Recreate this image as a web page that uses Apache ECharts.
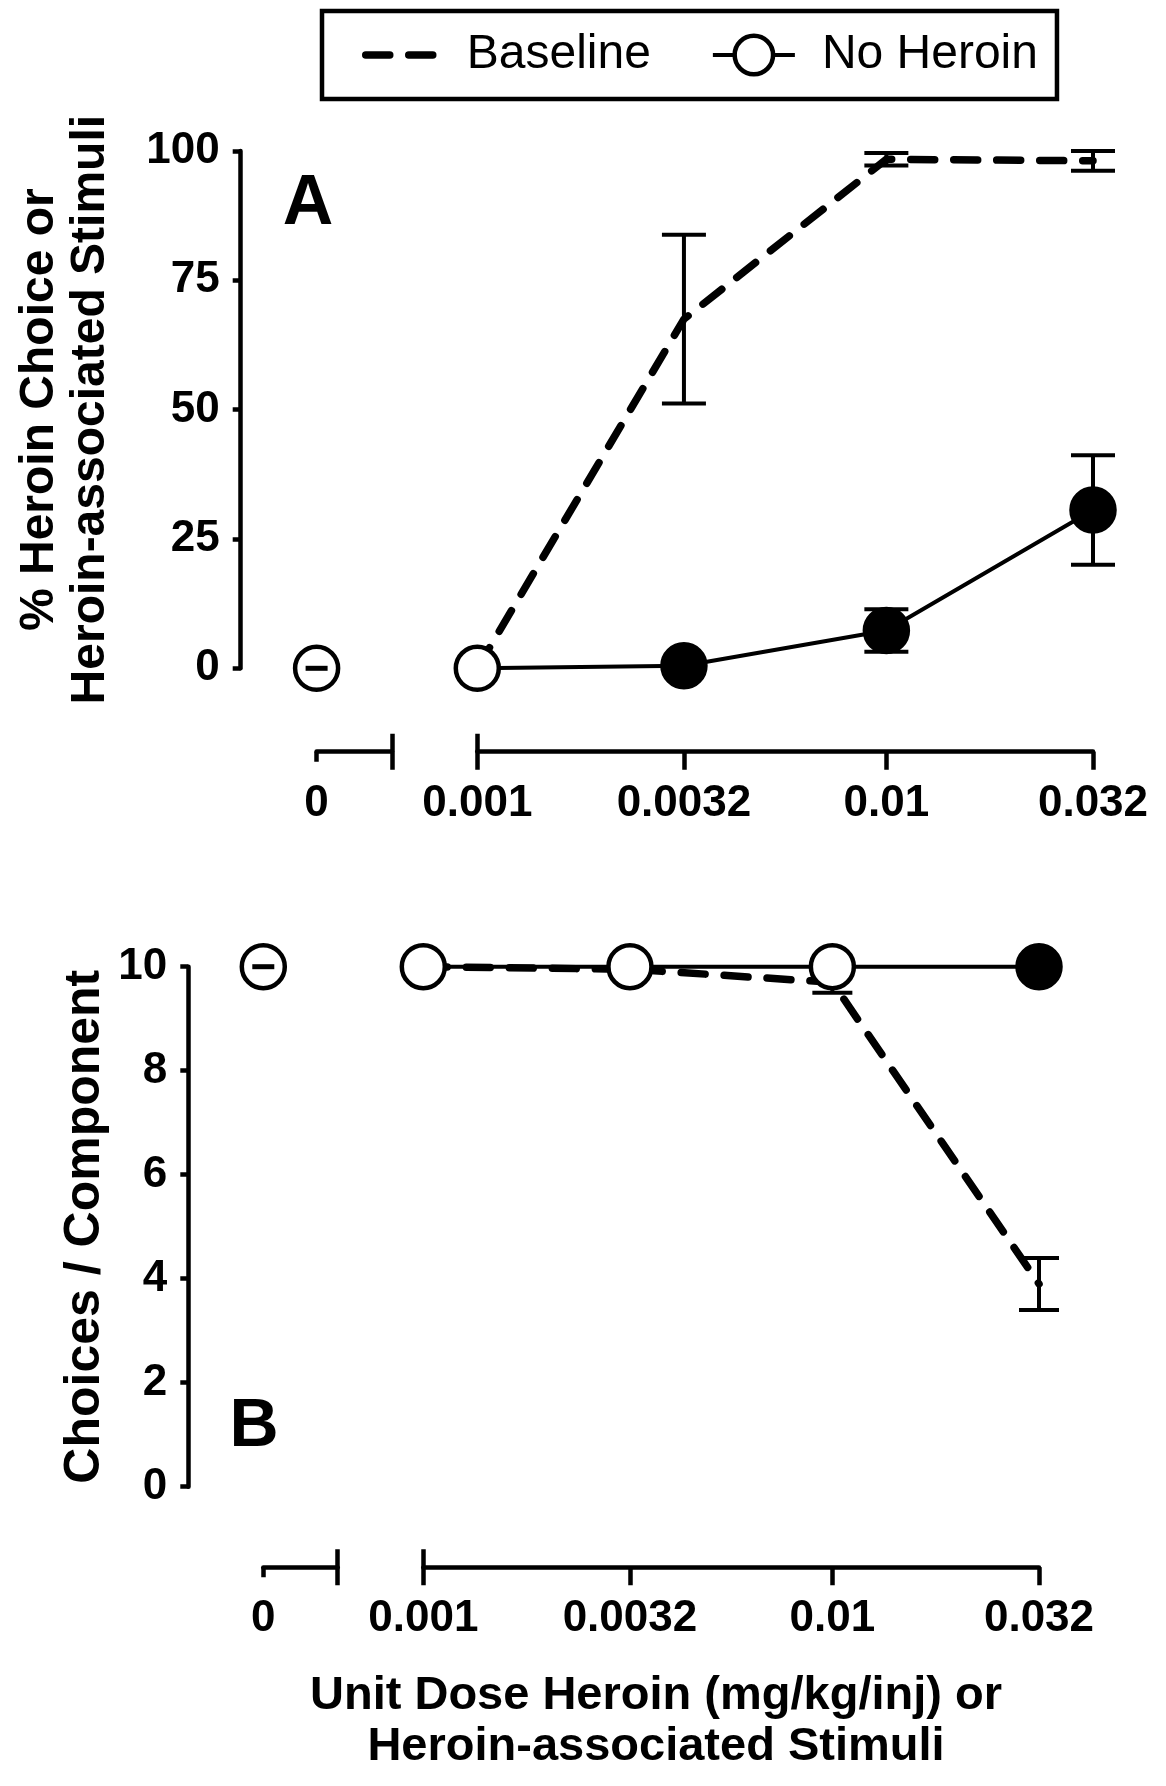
<!DOCTYPE html>
<html><head><meta charset="utf-8">
<script src="https://cdn.jsdelivr.net/npm/echarts@6/dist/echarts.min.js"></script>
<style>html,body{margin:0;padding:0;background:#fff}#c{width:1166px;height:1786px}</style>
</head><body><div id="c"></div>
<script>
// ---------- data ----------
const doses = [0.001, 0.0032, 0.01, 0.032];
const doseLabels = ['0.001', '0.0032', '0.01', '0.032'];
const zeroDoseLabel = '0';
const seriesNames = ['Baseline', 'No Heroin'];

// Panel A: % heroin choice
const baselineA = [0, 67.5, 98.4, 98.1];
const baselineErrA = [0, 16.3, 1.2, 1.9];
const noHeroinA = [0, 0.5, 7.3, 30.6];
const noHeroinErrA = [0, 0, 4.1, 10.6];
const noHeroinFilledA = [false, true, true, true];
const zeroDoseA = 0;
const yTicksA = [0, 25, 50, 75, 100];

// Panel B: choices / component
const baselineB = [10, 9.95, 9.7, 3.9];
const baselineErrB = [0, 0, 0.2, 0.5];
const noHeroinB = [10, 10, 10, 10];
const noHeroinErrB = [0, 0, 0, 0];
const noHeroinFilledB = [false, false, false, true];
const zeroDoseB = 10;
const yTicksB = [0, 2, 4, 6, 8, 10];

// ---------- style ----------
const FONT = "'Liberation Sans', Arial, sans-serif";
const BLACK = '#000';
const AXW = 4.5;
const DASH = { color: BLACK, width: 7.5, type: [24, 19], cap: 'round' };
const SOLID = { color: BLACK, width: 4 };
const OPEN = { color: '#fff', borderColor: BLACK, borderWidth: 4.5, opacity: 1 };

const P = {
  A: { top: 151, bottom: 668.3, yAxisX: 240.7, zeroL: 316.6, zeroR: 392, mainL: 477.3, mainR: 1093, xAxisY: 751.7 },
  B: { top: 966.7, bottom: 1486.7, yAxisX: 188.3, zeroL: 263.3, zeroR: 337.7, mainL: 423.3, mainR: 1039, xAxisY: 1567.3 }
};

function labelFor(v) {
  let best = 0, bd = Infinity;
  doses.forEach((d, i) => { const dd = Math.abs(Math.log(v / d)); if (dd < bd) { bd = dd; best = i; } });
  return doseLabels[best];
}

const tickLabelStyle = { color: BLACK, fontFamily: FONT, fontWeight: 'bold', fontSize: 44 };

function errRender(capW) {
  return function (params, api) {
    const x = api.value(0), lo = api.value(1), hi = api.value(2);
    if (!(hi - lo > 0)) return { type: 'group', children: [] };
    const a = api.coord([x, lo]), b = api.coord([x, hi]);
    const st = { stroke: BLACK, lineWidth: 4 };
    return { type: 'group', children: [
      { type: 'line', shape: { x1: a[0], y1: a[1], x2: b[0], y2: b[1] }, style: st },
      { type: 'line', shape: { x1: a[0] - capW / 2, y1: a[1], x2: a[0] + capW / 2, y2: a[1] }, style: st },
      { type: 'line', shape: { x1: b[0] - capW / 2, y1: b[1], x2: b[0] + capW / 2, y2: b[1] }, style: st }
    ] };
  };
}

const grids = [], xAxes = [], yAxes = [], series = [];

function buildPanel(key, yMax, yInterval, yName, nameGap, nameLH, nameSize, base, baseErr, noH, noHErr, filled, zeroVal, capW) {
  const p = P[key];
  const h = p.bottom - p.top;
  const off = p.xAxisY - p.bottom;
  const g0 = grids.length;
  grids.push({ left: p.zeroL, top: p.top, width: p.zeroR - p.zeroL, height: h, containLabel: false, outerBoundsMode: 'none' });
  grids.push({ left: p.mainL, top: p.top, width: p.mainR - p.mainL, height: h, containLabel: false, outerBoundsMode: 'none' });
  const g1 = g0 + 1;

  const xz = xAxes.length;
  // zero-dose segment
  xAxes.push({ type: 'value', gridIndex: g0, min: 0, max: 1, position: 'bottom', offset: off,
    axisLine: { show: true, onZero: false, lineStyle: { color: BLACK, width: AXW } },
    axisTick: { show: true, customValues: [0], length: 10, lineStyle: { color: BLACK, width: AXW } },
    axisLabel: { show: true, customValues: [0], formatter: () => zeroDoseLabel, margin: 30, ...tickLabelStyle },
    splitLine: { show: false } });
  xAxes.push({ type: 'value', gridIndex: g0, min: 0, max: 1, position: 'bottom', offset: off,
    axisLine: { show: false, onZero: false },
    axisTick: { show: true, customValues: [1], length: 18, lineStyle: { color: BLACK, width: AXW } },
    axisLabel: { show: false }, splitLine: { show: false } });
  xAxes.push({ type: 'value', gridIndex: g0, min: 0, max: 1, position: 'bottom', offset: off,
    axisLine: { show: false, onZero: false },
    axisTick: { show: true, inside: true, customValues: [1], length: 18, lineStyle: { color: BLACK, width: AXW } },
    axisLabel: { show: false }, splitLine: { show: false } });
  const xm = xAxes.length;
  xAxes.push({ type: 'log', logBase: 10, gridIndex: g1, min: doses[0], max: doses[doses.length - 1], position: 'bottom', offset: off,
    axisLine: { show: true, onZero: false, lineStyle: { color: BLACK, width: AXW } },
    axisTick: { show: true, customValues: doses, length: 18, lineStyle: { color: BLACK, width: AXW } },
    axisLabel: { show: true, customValues: doses, formatter: (v) => labelFor(v), margin: 30, ...tickLabelStyle },
    splitLine: { show: false }, minorTick: { show: false }, minorSplitLine: { show: false } });
  xAxes.push({ type: 'log', logBase: 10, gridIndex: g1, min: doses[0], max: doses[doses.length - 1], position: 'bottom', offset: off,
    axisLine: { show: false, onZero: false },
    axisTick: { show: true, inside: true, customValues: [doses[0]], length: 18, lineStyle: { color: BLACK, width: AXW } },
    axisLabel: { show: false }, splitLine: { show: false } });

  const y0 = yAxes.length;
  yAxes.push({ type: 'value', gridIndex: g0, min: 0, max: yMax, interval: yInterval, position: 'left', offset: p.zeroL - p.yAxisX,
    axisLine: { show: true, onZero: false, lineStyle: { color: BLACK, width: AXW } },
    axisTick: { show: true, length: 8, lineStyle: { color: BLACK, width: AXW } },
    axisLabel: { show: true, margin: 21, ...tickLabelStyle },
    splitLine: { show: false },
    name: yName, nameLocation: 'middle', nameRotate: 90, nameGap: nameGap,
    nameTextStyle: { color: BLACK, fontFamily: FONT, fontWeight: 'bold', fontSize: nameSize, lineHeight: nameLH } });
  yAxes.push({ type: 'value', gridIndex: g1, min: 0, max: yMax, interval: yInterval, show: false });
  const y1 = y0 + 1;

  // baseline dashed line
  series.push({ type: 'line', name: seriesNames[0], xAxisIndex: xm, yAxisIndex: y1, z: 3, clip: false, symbol: 'none', silent: true,
    lineStyle: DASH, itemStyle: { color: BLACK },
    data: doses.map((d, i) => [d, base[i]]) });
  // no heroin line + markers
  series.push({ type: 'line', name: seriesNames[1], xAxisIndex: xm, yAxisIndex: y1, z: 5, clip: false, silent: true,
    symbol: 'circle', symbolSize: 43,
    lineStyle: SOLID, itemStyle: OPEN,
    data: doses.map((d, i) => ({ value: [d, noH[i]], itemStyle: { color: filled[i] ? BLACK : '#fff' } })) });
  // baseline error bars
  series.push({ type: 'custom', name: 'Baseline SEM', xAxisIndex: xm, yAxisIndex: y1, z: 2, clip: false, silent: true,
    renderItem: errRender(capW), encode: { x: 0, y: [1, 2] },
    data: doses.map((d, i) => [d, base[i] - baseErr[i], base[i] + baseErr[i]]) });
  // no heroin error bars
  series.push({ type: 'custom', name: 'No Heroin SEM', xAxisIndex: xm, yAxisIndex: y1, z: 4, clip: false, silent: true,
    renderItem: errRender(capW), encode: { x: 0, y: [1, 2] },
    data: doses.map((d, i) => [d, noH[i] - noHErr[i], noH[i] + noHErr[i]]) });
  // zero-dose point
  series.push({ type: 'scatter', name: 'Zero dose', xAxisIndex: xz, yAxisIndex: y0, z: 5, clip: false, silent: true,
    symbol: 'circle', symbolSize: 43, itemStyle: OPEN,
    data: [[0, zeroVal]] });
  series.push({ type: 'scatter', name: 'Zero dose mark', xAxisIndex: xz, yAxisIndex: y0, z: 6, clip: false, silent: true,
    symbol: 'rect', symbolSize: [22, 5],
    itemStyle: { color: BLACK, opacity: 1 },
    data: [[0, zeroVal]] });
}

buildPanel('A', 100, 25, '% Heroin Choice or\nHeroin-associated Stimuli', 124, 51, 48,
  baselineA, baselineErrA, noHeroinA, noHeroinErrA, noHeroinFilledA, zeroDoseA, 44);
buildPanel('B', 10, 2, 'Choices / Component', 76, 54, 50,
  baselineB, baselineErrB, noHeroinB, noHeroinErrB, noHeroinFilledB, zeroDoseB, 40);

const chart = echarts.init(document.getElementById('c'), null, { renderer: 'canvas' });
chart.setOption({
  animation: false,
  backgroundColor: '#fff',
  grid: grids,
  xAxis: xAxes,
  yAxis: yAxes,
  series: series,
  legend: {
    data: [
      { name: seriesNames[0], itemStyle: { opacity: 0, borderWidth: 0 }, lineStyle: DASH },
      { name: seriesNames[1], itemStyle: OPEN, lineStyle: SOLID, textStyle: { padding: [0, 0, 0, 22] } }
    ],
    left: 322, top: 11, orient: 'horizontal',
    itemWidth: 82, itemHeight: 48, itemGap: 60,
    padding: [20, 19, 20, 40],
    borderColor: BLACK, borderWidth: 4.5, borderRadius: 0,
    selectedMode: false,
    textStyle: { color: BLACK, fontFamily: FONT, fontSize: 48, padding: [0, 0, 0, 14] }
  },
  graphic: [
    { type: 'text', x: 308, y: 205, silent: true,
      style: { text: 'A', fill: BLACK, font: "bold 70px 'Liberation Sans', Arial, sans-serif", align: 'center', verticalAlign: 'middle' } },
    { type: 'text', x: 254, y: 1427, silent: true,
      style: { text: 'B', fill: BLACK, font: "bold 68px 'Liberation Sans', Arial, sans-serif", align: 'center', verticalAlign: 'middle' } },
    { type: 'text', x: 656, y: 1671, silent: true,
      style: { text: 'Unit Dose Heroin (mg/kg/inj) or\nHeroin-associated Stimuli', fill: BLACK,
        font: "bold 47px 'Liberation Sans', Arial, sans-serif", lineHeight: 51, align: 'center', verticalAlign: 'top' } }
  ]
});
</script>
</body></html>
